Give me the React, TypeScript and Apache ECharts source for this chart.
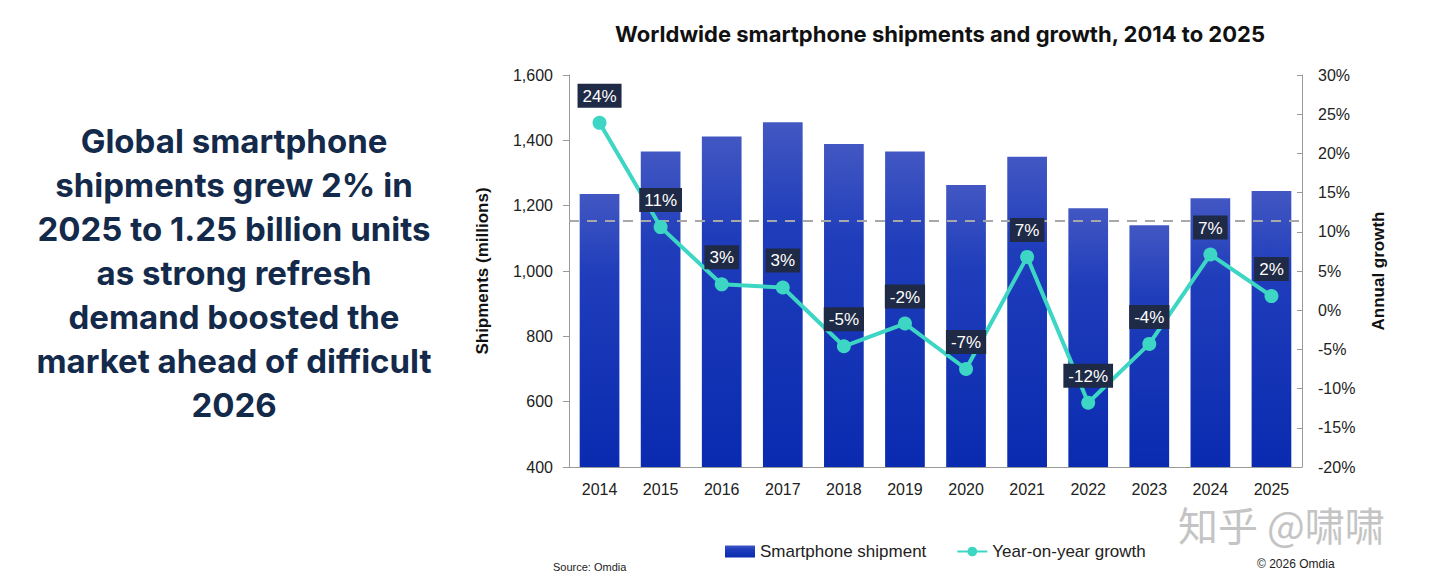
import React, { useEffect, useRef } from "react";
import * as echarts from "echarts";

const years = ["2014", "2015", "2016", "2017", "2018", "2019", "2020", "2021", "2022", "2023", "2024", "2025"];
const shipments = [1236, 1366, 1412, 1455, 1389, 1366, 1263, 1350, 1192, 1140, 1223, 1245];
const growth = [23.9, 10.6, 3.3, 2.9, -4.6, -1.7, -7.5, 6.8, -11.8, -4.3, 7.1, 1.8];
const growthLabels = ["24%", "11%", "3%", "3%", "-5%", "-2%", "-7%", "7%", "-12%", "-4%", "7%", "2%"];
const referenceLevel = 1153;
const headlineLines = [
  "Global smartphone",
  "shipments grew 2% in",
  "2025 to 1.25 billion units",
  "as strong refresh",
  "demand boosted the",
  "market ahead of difficult",
  "2026",
];

const NAVY = "#142a4b";
const TEAL = "#3dd6c4";

export default function App() {
  const ref = useRef<HTMLDivElement>(null);
  useEffect(() => {
    document.body.style.margin = "0";
    if (!ref.current) return;
    const chart = echarts.init(ref.current, null, { renderer: "svg" });
    const barGradient = new echarts.graphic.LinearGradient(0, 0, 0, 1, [
      { offset: 0, color: "#4257c2" },
      { offset: 0.3, color: "#1f3dbb" },
      { offset: 1, color: "#0a2bb0" },
    ]);
    const axisFont = "'Liberation Sans', Arial, sans-serif";
    const headFont = "Inter, 'Open Sans', sans-serif";
    chart.setOption({
      animation: false,
      backgroundColor: "#ffffff",
      title: {
        text: "Worldwide smartphone shipments and growth, 2014 to 2025",
        left: 935,
        top: 18,
        textAlign: "center",
        textStyle: { fontFamily: headFont, fontWeight: "bold", fontSize: 22, color: "#111111" },
      },
      grid: { left: 569, right: 138, top: 75, bottom: 120 },
      legend: {
        left: 720,
        top: 538,
        itemWidth: 30,
        itemHeight: 12,
        itemGap: 30,
        textStyle: { fontFamily: axisFont, fontSize: 17, color: "#222222" },
        data: [
          { name: "Smartphone shipment", icon: "rect" },
          { name: "Year-on-year growth" },
        ],
      },
      xAxis: {
        type: "category",
        data: years,
        axisLine: { onZero: false, lineStyle: { color: "#9a9a9a" } },
        axisTick: { show: false },
        axisLabel: { fontFamily: axisFont, fontSize: 16, color: "#222222", margin: 14 },
      },
      yAxis: [
        {
          type: "value",
          min: 400,
          max: 1600,
          interval: 200,
          name: "Shipments (millions)",
          nameLocation: "middle",
          nameGap: 78,
          nameTextStyle: { fontFamily: axisFont, fontWeight: "bold", fontSize: 17, color: "#111111" },
          axisLine: { show: true, lineStyle: { color: "#9a9a9a" } },
          axisTick: { show: true, length: 6, lineStyle: { color: "#9a9a9a" } },
          splitLine: { show: false },
          axisLabel: {
            fontFamily: axisFont,
            fontSize: 16,
            color: "#222222",
            margin: 16,
            formatter: (v: number) => v.toLocaleString("en-US"),
          },
        },
        {
          type: "value",
          min: -20,
          max: 30,
          interval: 5,
          name: "Annual growth",
          nameLocation: "middle",
          nameGap: 68,
          nameTextStyle: { fontFamily: axisFont, fontWeight: "bold", fontSize: 17, color: "#111111" },
          axisLine: { show: true, lineStyle: { color: "#9a9a9a" } },
          axisTick: { show: true, length: 5, inside: true, lineStyle: { color: "#9a9a9a" } },
          splitLine: { show: false },
          axisLabel: {
            fontFamily: axisFont,
            fontSize: 16,
            color: "#222222",
            margin: 16,
            formatter: (v: number) => v + "%",
          },
        },
      ],
      series: [
        {
          name: "Smartphone shipment",
          type: "bar",
          data: shipments,
          barCategoryGap: "35%",
          itemStyle: { color: barGradient },
          markLine: {
            silent: true,
            symbol: "none",
            label: { show: false },
            lineStyle: { color: "#a8a8a8", type: [10, 8], width: 2 },
            data: [{ yAxis: referenceLevel }],
          },
        },
        {
          name: "Year-on-year growth",
          type: "line",
          yAxisIndex: 1,
          data: growth,
          symbol: "circle",
          symbolSize: 14,
          lineStyle: { color: TEAL, width: 4 },
          itemStyle: { color: TEAL },
          label: {
            show: true,
            position: "top",
            distance: 8,
            formatter: (p: any) => growthLabels[p.dataIndex],
            backgroundColor: "#1f2a46",
            color: "#ffffff",
            fontFamily: axisFont,
            fontSize: 17,
            padding: [4, 5, 3, 5],
          },
          z: 5,
        },
      ],
      graphic: [
        ...headlineLines.map((line, i) => ({
          type: "text",
          x: 234,
          y: 141 + i * 44,
          style: {
            text: line,
            fill: NAVY,
            font: `bold 33px ${headFont}`,
            textAlign: "center",
            textVerticalAlign: "middle",
          },
        })),
        {
          type: "text",
          x: 553,
          y: 567,
          style: {
            text: "Source: Omdia",
            fill: "#222222",
            font: `11px ${axisFont}`,
            textVerticalAlign: "middle",
          },
        },
        {
          type: "text",
          x: 1257,
          y: 564,
          style: {
            text: "© 2026 Omdia",
            fill: "#222222",
            font: `12px ${axisFont}`,
            textVerticalAlign: "middle",
          },
        },
        {
          type: "text",
          x: 1178,
          y: 524,
          style: {
            text: "知乎 @啸啸",
            fill: "#c4c4c4",
            font: `40px 'Noto Sans CJK SC', sans-serif`,
            textVerticalAlign: "middle",
          },
        },
      ],
    });
    return () => chart.dispose();
  }, []);
  return <div ref={ref} style={{ width: 1440, height: 587 }} />;
}
